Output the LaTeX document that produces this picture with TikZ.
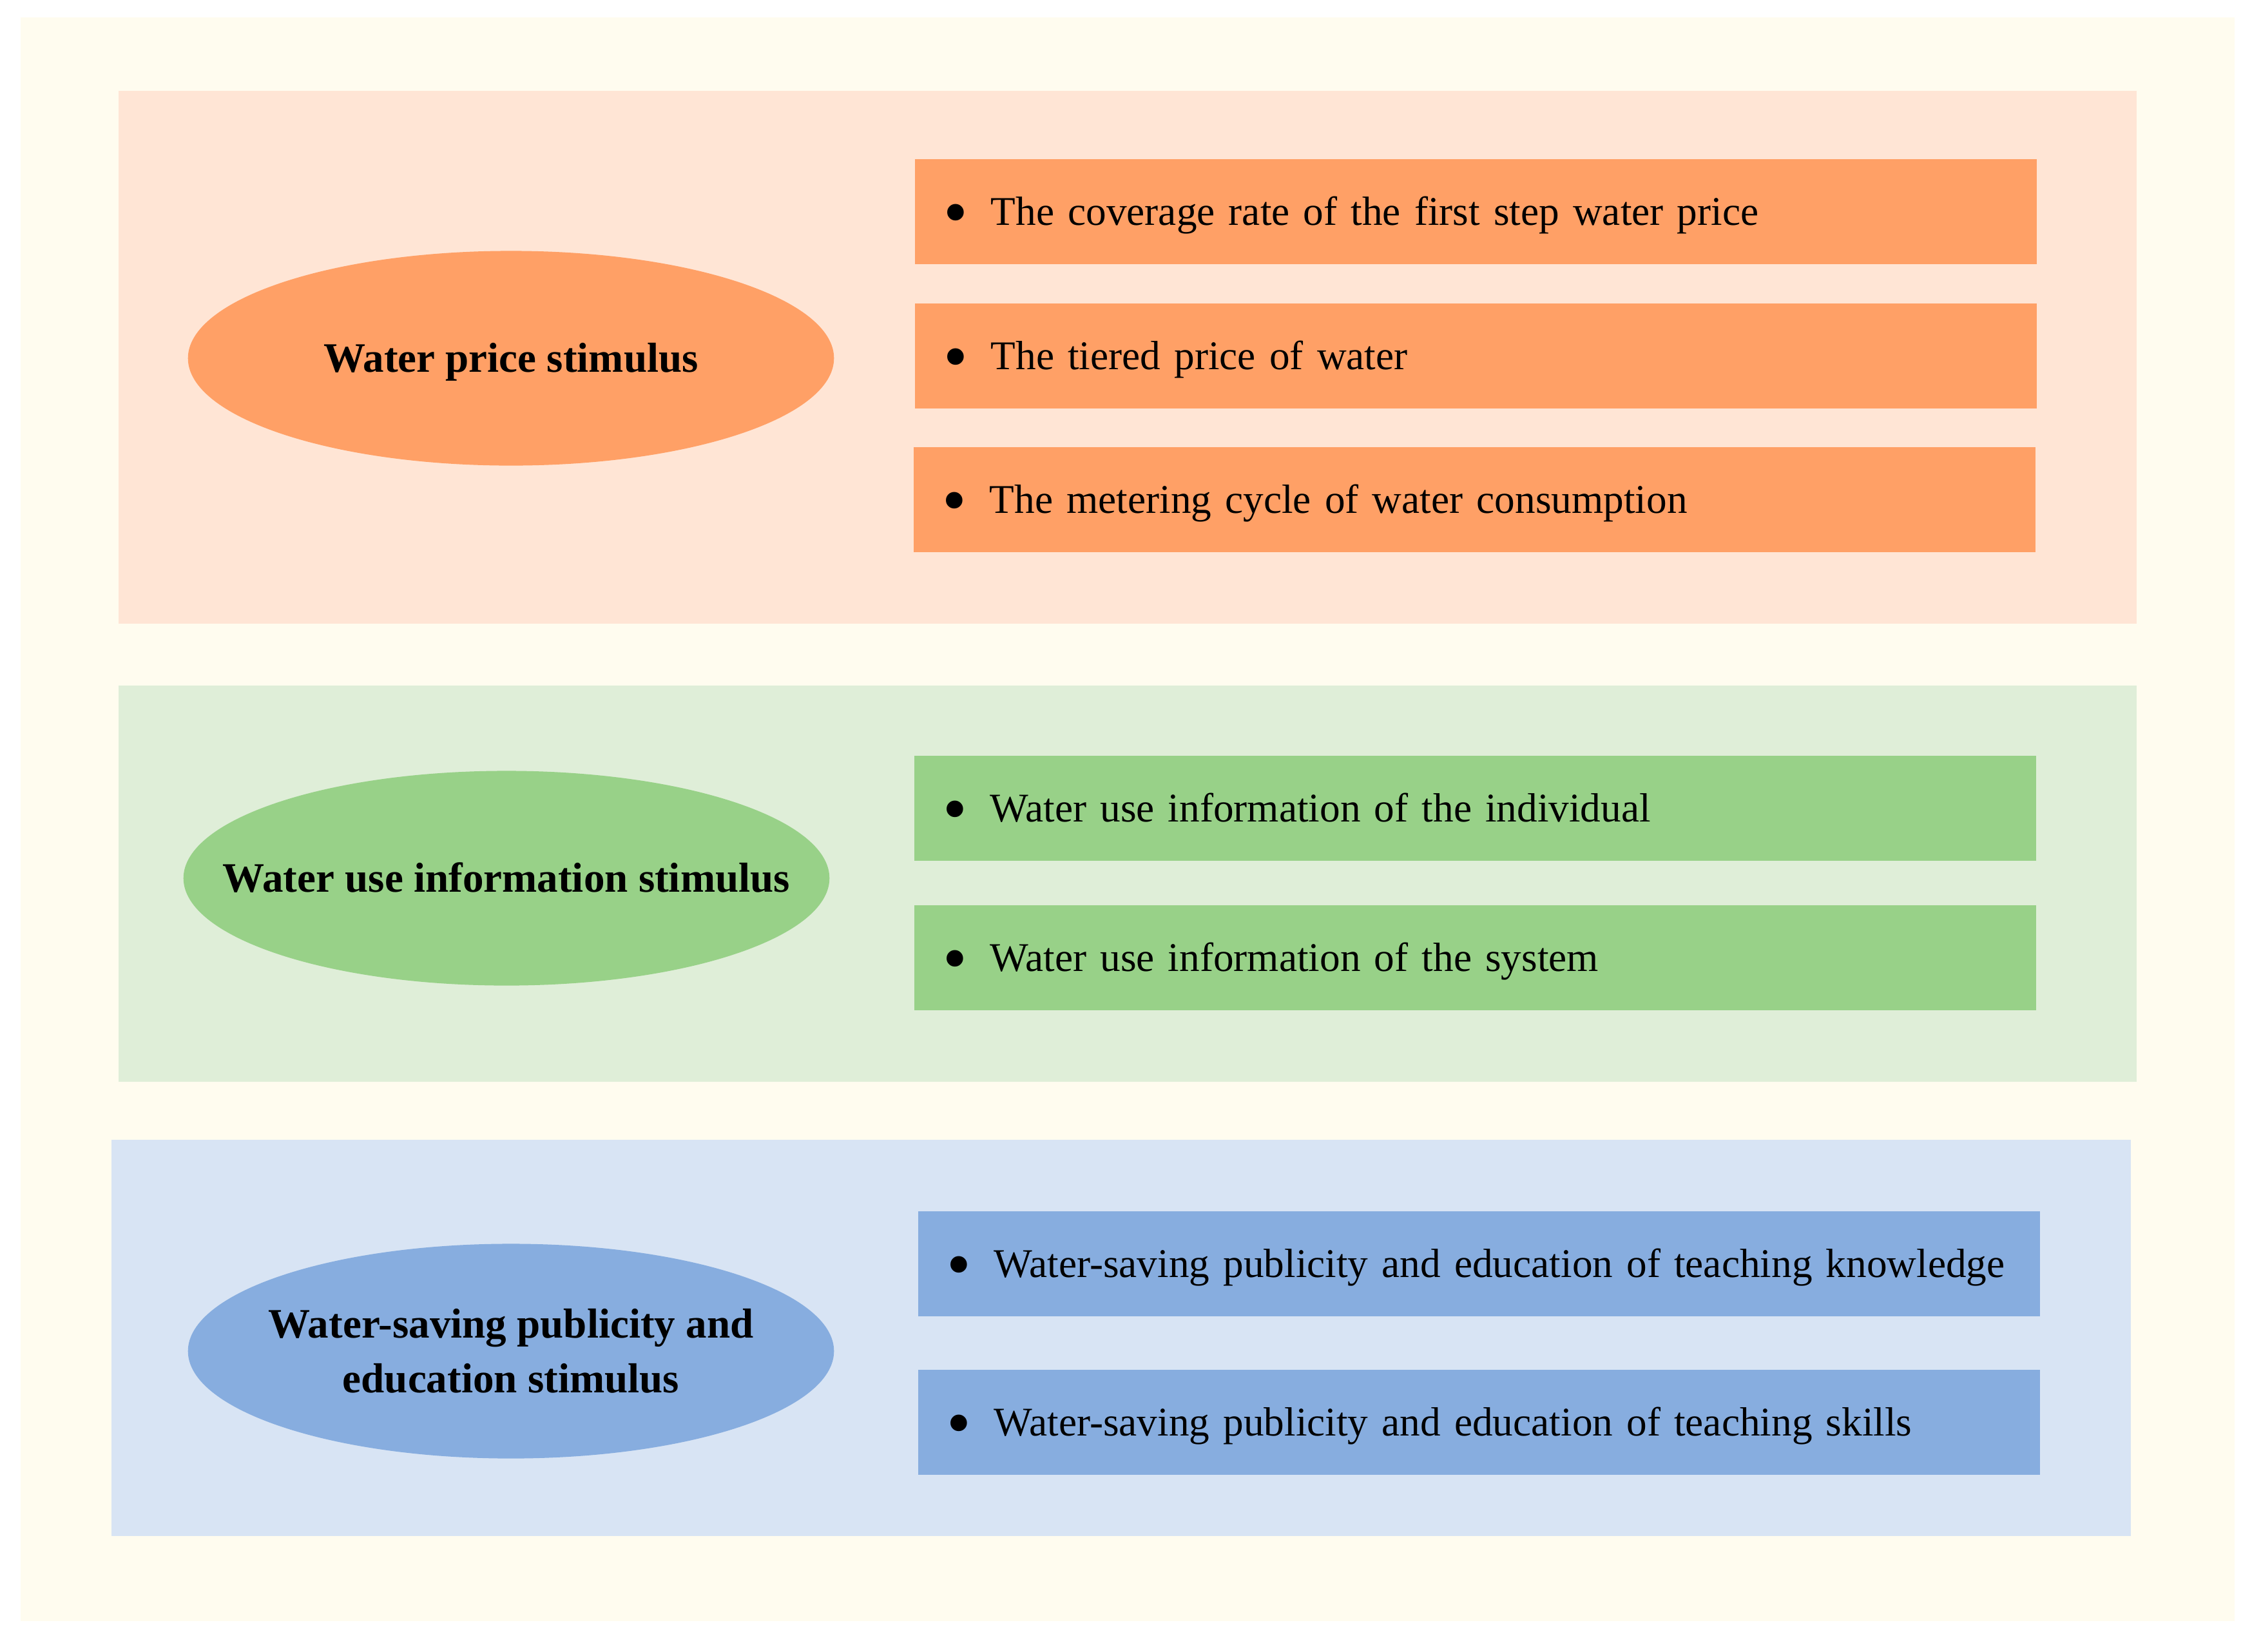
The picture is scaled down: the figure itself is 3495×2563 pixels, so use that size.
\documentclass[tikz,border=0pt]{standalone}
\usepackage{fontspec}
\usepackage{graphicx}
\setmainfont{Liberation Serif}
\usetikzlibrary{shapes.geometric}
\definecolor{bgc}{HTML}{FFFCEF}
\definecolor{orL}{HTML}{FFE5D5}
\definecolor{orD}{HTML}{FFA066}
\definecolor{grL}{HTML}{DFEED8}
\definecolor{grD}{HTML}{98D188}
\definecolor{blL}{HTML}{D8E4F4}
\definecolor{blD}{HTML}{87ADDF}
\begin{document}
\begin{tikzpicture}[x=0.01cm,y=-0.01cm,
  panel/.style={anchor=north west,inner sep=0pt,minimum width=31.30cm,draw=none},
  itembox/.style={anchor=north west,inner sep=0pt,minimum width=17.40cm,minimum height=1.63cm,text width=17.40cm,text height=0.55cm,text depth=0.12cm,align=left,font=\fontsize{18}{24}\selectfont},
  oval/.style={ellipse,inner sep=0pt,minimum width=10.02cm,minimum height=3.33cm},
  ovaltext/.style={inner sep=0pt,align=center,font=\fontsize{18.5}{24.2}\selectfont\bfseries},
  oneline/.style={text height=0.55cm,text depth=0.12cm}]
\useasboundingbox (0,0) rectangle (3495,2563);
\fill[bgc] (32,27) rectangle (3468,2516);
% panels
\node[panel,fill=orL,minimum height=8.27cm] (p1) at (183,140) {};
\node[panel,fill=grL,minimum height=6.15cm] (p2) at (183,1063) {};
\node[panel,fill=blL,minimum height=6.15cm,minimum width=31.32cm] (p3) at (172,1768) {};
% ellipses
\node[oval,fill=orD] (e1) at (793,556) {};
\node[ovaltext,oneline] (t1) at (e1.center) {Water price stimulus};
\node[oval,fill=grD] (e2) at (786,1363) {};
\node[ovaltext,oneline] (t2) at (e2.center) {Water use information stimulus};
\node[oval,fill=blD] (e3) at (793,2097) {};
\node[ovaltext] (t3) at (e3.center) {Water-saving publicity and\\education stimulus};
% items
\newcommand{\bul}{\hspace*{0.45cm}\makebox[0.73cm][l]{\raisebox{-0.16cm}{\scalebox{1.7}{\textbullet}}}}
\node[itembox,fill=orD] (a1) at (1419,246) {\bul The coverage rate of the first step water price};
\node[itembox,fill=orD] (a2) at (1419,470) {\bul The tiered price of water};
\node[itembox,fill=orD] (a3) at (1417,693) {\bul The metering cycle of water consumption};
\node[itembox,fill=grD] (b1) at (1418,1172) {\bul Water use information of the individual};
\node[itembox,fill=grD] (b2) at (1418,1404) {\bul Water use information of the system};
\node[itembox,fill=blD] (c1) at (1424,1879) {\bul Water-saving publicity and education of teaching knowledge};
\node[itembox,fill=blD] (c2) at (1424,2125) {\bul Water-saving publicity and education of teaching skills};
\end{tikzpicture}
\end{document}
